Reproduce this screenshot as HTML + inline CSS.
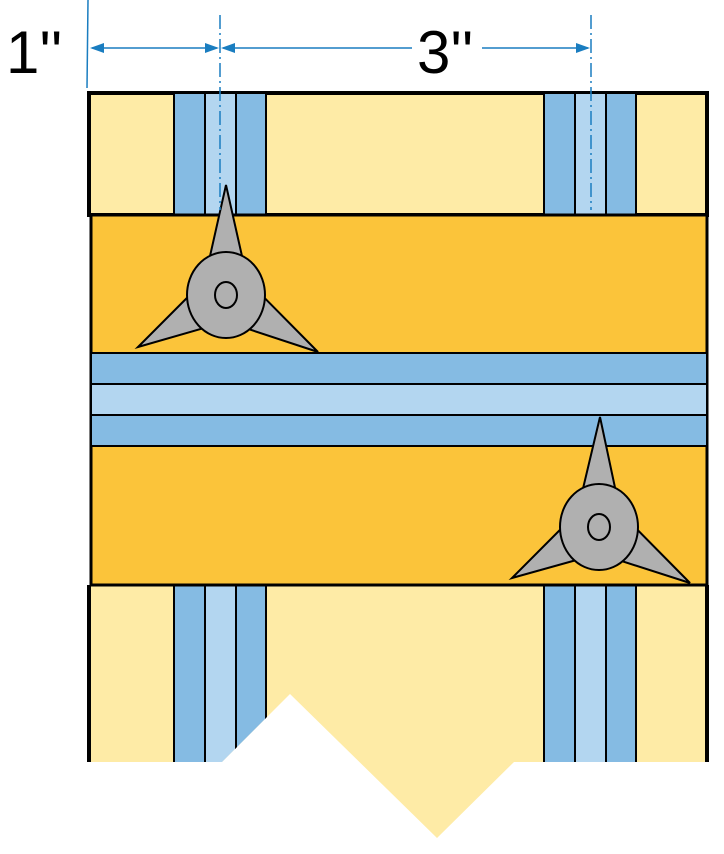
<!DOCTYPE html>
<html><head><meta charset="utf-8"><style>html,body{margin:0;padding:0;background:#fff}svg{display:block}</style></head>
<body>
<svg width="724" height="854" viewBox="0 0 724 854" font-family="Liberation Sans, sans-serif">
  <defs>
    <clipPath id="brk"><polygon points="80,585 724,585 724,762 514,762 437,838 290,694 222,762 80,762"/></clipPath>
  </defs>
  <rect x="89" y="93" width="618" height="122" fill="#FEEBA6" stroke="#000" stroke-width="4"/>
  <g stroke="#000" stroke-width="2">
    <rect x="174" y="93" width="31" height="122" fill="#85BBE3"/>
    <rect x="205" y="93" width="31" height="122" fill="#B3D6F0"/>
    <rect x="236" y="93" width="30" height="122" fill="#85BBE3"/>
    <rect x="544" y="93" width="31" height="122" fill="#85BBE3"/>
    <rect x="575" y="93" width="31" height="122" fill="#B3D6F0"/>
    <rect x="606" y="93" width="30" height="122" fill="#85BBE3"/>
  </g>
  <g clip-path="url(#brk)">
    <rect x="89" y="585" width="618" height="260" fill="#FEEBA6"/>
    <line x1="89" y1="585" x2="89" y2="845" stroke="#000" stroke-width="4"/>
    <line x1="707" y1="585" x2="707" y2="845" stroke="#000" stroke-width="4"/>
    <g stroke="#000" stroke-width="2">
      <rect x="174" y="585" width="31" height="260" fill="#85BBE3"/>
      <rect x="205" y="585" width="31" height="260" fill="#B3D6F0"/>
      <rect x="236" y="585" width="30" height="260" fill="#85BBE3"/>
      <rect x="544" y="585" width="31" height="260" fill="#85BBE3"/>
      <rect x="575" y="585" width="31" height="260" fill="#B3D6F0"/>
      <rect x="606" y="585" width="30" height="260" fill="#85BBE3"/>
    </g>
  </g>
  <rect x="91" y="215" width="616" height="370" fill="#FBC43A" stroke="#000" stroke-width="3"/>
  <g stroke="#000" stroke-width="2">
    <rect x="91" y="353" width="616" height="31" fill="#85BBE3"/>
    <rect x="91" y="384" width="616" height="31" fill="#B3D6F0"/>
    <rect x="91" y="415" width="616" height="31" fill="#85BBE3"/>
  </g>
  <g fill="#B0B0B0" stroke="#000" stroke-width="2">
    <polygon points="226,185 208,265 244,265"/>
    <polygon points="138,347 214.7,324.9 194.3,290.5"/>
    <polygon points="318,352 236.7,325.2 257.9,291.2"/>
    <ellipse cx="226" cy="295" rx="39" ry="43"/>
    <ellipse cx="226" cy="295" rx="11" ry="13"/>
  </g>
  <g fill="#B0B0B0" stroke="#000" stroke-width="2">
    <polygon points="600,417 581,497 617,497"/>
    <polygon points="512,578 587.7,556.9 567.3,522.5"/>
    <polygon points="690,583 609.7,557.2 630.9,523.2"/>
    <ellipse cx="599" cy="527" rx="39" ry="43"/>
    <ellipse cx="599" cy="527" rx="11" ry="13"/>
  </g>
  <g stroke="#1A7DC0" stroke-width="1.5" fill="none">
    <line x1="88" y1="0" x2="87" y2="88"/>
    <line x1="220" y1="15" x2="220" y2="210" stroke-dasharray="14,4,2,4"/>
    <line x1="591" y1="15" x2="591" y2="210" stroke-dasharray="14,4,2,4"/>
    <line x1="92" y1="48" x2="217" y2="48"/>
    <line x1="223" y1="48" x2="412" y2="48"/>
    <line x1="482" y1="48" x2="588" y2="48"/>
  </g>
  <g fill="#1A7DC0">
    <polygon points="90,48 104,43 104,53"/>
    <polygon points="219,48 205,43 205,53"/>
    <polygon points="221,48 235,43 235,53"/>
    <polygon points="590,48 576,43 576,53"/>
  </g>
  <text x="6" y="73" font-size="60" fill="#000">1''</text>
  <text x="417" y="73" font-size="60" fill="#000">3''</text>
</svg>
</body></html>
